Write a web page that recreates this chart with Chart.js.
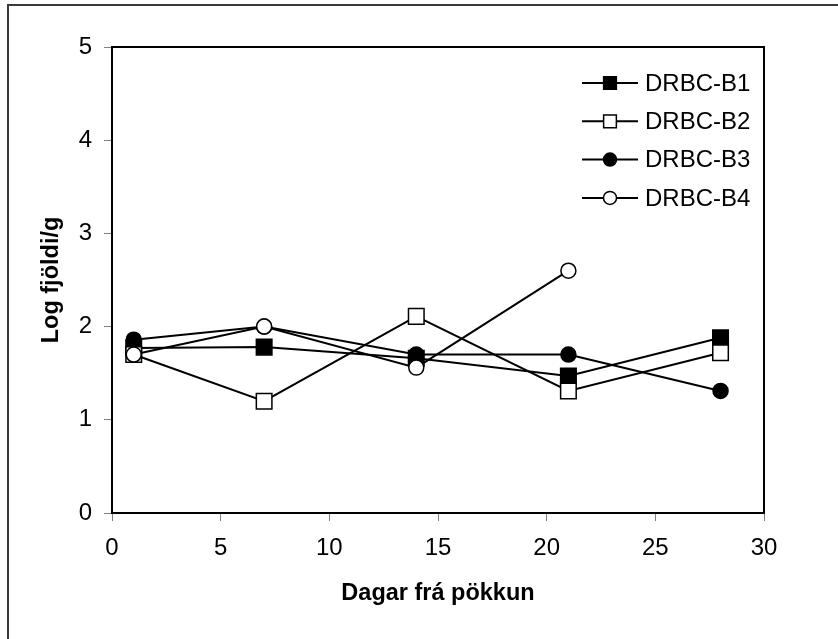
<!DOCTYPE html>
<html>
<head>
<meta charset="utf-8">
<script src="https://cdn.jsdelivr.net/npm/chart.js@4.4.1/dist/chart.umd.min.js"></script>
<style>
  html, body { margin: 0; padding: 0; background: #fff; }
  #wrap { width: 838px; height: 639px; }
</style>
</head>
<body>
<div id="wrap"><canvas id="chart" width="838" height="639"></canvas></div>
<script>
// days after packing
var days = [1, 7, 14, 21, 28];
var seriesNames = ['DRBC-B1', 'DRBC-B2', 'DRBC-B3', 'DRBC-B4'];
var valuesB1 = [1.77, 1.78, 1.66, 1.47, 1.88];
var valuesB2 = [1.70, 1.20, 2.11, 1.31, 1.72];
var valuesB3 = [1.86, 2.00, 1.70, 1.70, 1.31];
var valuesB4 = [1.70, 2.00, 1.56, 2.60, null];
var xTicks = [0, 5, 10, 15, 20, 25, 30];
var yTicks = [0, 1, 2, 3, 4, 5];

var FONT = '"Liberation Sans", Arial, sans-serif';

function points(values) {
  return days.map(function(d, i) { return { x: d, y: values[i] }; });
}

// later series are painted on top, like in the original
function series(name, values, style, filled, radius, order) {
  return {
    label: name,
    data: points(values),
    order: order,
    borderColor: '#000',
    borderWidth: 2,
    pointStyle: style,
    pointRadius: radius,
    pointHoverRadius: radius,
    pointBorderWidth: 1.5,
    pointBorderColor: '#000',
    pointBackgroundColor: filled ? '#000' : '#fff',
    spanGaps: false,
    tension: 0
  };
}

var datasets = [
  series(seriesNames[0], valuesB1, 'rect', true, 11, 4),
  series(seriesNames[1], valuesB2, 'rect', false, 11, 3),
  series(seriesNames[2], valuesB3, 'circle', true, 7.5, 2),
  series(seriesNames[3], valuesB4, 'circle', false, 7.5, 1)
];

var framePlugin = {
  id: 'frame',
  beforeDraw: function(chart) {
    var ctx = chart.ctx;
    ctx.save();
    ctx.fillStyle = '#fff';
    ctx.fillRect(0, 0, chart.width, chart.height);
    // outer frame (only top and left edges are inside the picture)
    ctx.strokeStyle = '#3a3a3a';
    ctx.lineWidth = 2;
    ctx.beginPath();
    ctx.moveTo(8, chart.height);
    ctx.lineTo(8, 5);
    ctx.lineTo(chart.width, 5);
    ctx.stroke();
    ctx.restore();
  },
  beforeDatasetsDraw: function(chart) {
    var a = chart.chartArea;
    var ctx = chart.ctx;
    ctx.save();
    ctx.strokeStyle = '#000';
    ctx.lineWidth = 2;
    ctx.strokeRect(a.left, a.top, a.right - a.left, a.bottom - a.top);
    ctx.restore();
  },
  afterDraw: function(chart) {
    var a = chart.chartArea;
    var ctx = chart.ctx;
    ctx.save();
    ctx.font = '24px ' + FONT;
    ctx.textBaseline = 'middle';
    ctx.textAlign = 'left';
    chart.data.datasets.forEach(function(ds, i) {
      var y = a.top + 36 + i * 38.3;
      var x0 = a.right - 182;
      ctx.strokeStyle = '#000';
      ctx.lineWidth = 2;
      ctx.beginPath();
      ctx.moveTo(x0, y);
      ctx.lineTo(x0 + 56, y);
      ctx.stroke();
      ctx.fillStyle = ds.pointBackgroundColor;
      ctx.lineWidth = 1.5;
      Chart.helpers.drawPoint(ctx, {
        pointStyle: ds.pointStyle,
        rotation: 0,
        radius: ds.pointStyle === 'rect' ? 9 : 6.5,
        borderWidth: 1.5
      }, x0 + 28, y);
      ctx.fillStyle = '#000';
      ctx.fillText(ds.label, x0 + 63, y + 1);
    });
    ctx.restore();
  }
};

var ctx = document.getElementById('chart').getContext('2d');
new Chart(ctx, {
  type: 'line',
  data: { datasets: datasets },
  plugins: [framePlugin],
  options: {
    responsive: false,
    animation: false,
    devicePixelRatio: 1,
    layout: { padding: { left: 30, right: 74, top: 47, bottom: 20 } },
    plugins: { legend: { display: false }, tooltip: { enabled: false } },
    scales: {
      x: {
        type: 'linear',
        min: 0,
        max: 30,
        afterFit: function(scale) { scale.height = 106; },
        afterBuildTicks: function(scale) {
          scale.ticks = xTicks.map(function(v) { return { value: v }; });
        },
        border: { display: false },
        grid: { drawOnChartArea: false, drawTicks: true, tickLength: 8, color: '#808080', lineWidth: 1 },
        ticks: { color: '#000', padding: 13, maxRotation: 0, font: { family: FONT, size: 24 } },
        title: {
          display: true,
          text: 'Dagar frá pökkun',
          color: '#000',
          padding: { top: 0, bottom: 11 },
          font: { family: FONT, size: 23.5, weight: 'bold' }
        }
      },
      y: {
        type: 'linear',
        min: 0,
        max: 5,
        afterFit: function(scale) { scale.width = 82; },
        afterBuildTicks: function(scale) {
          scale.ticks = yTicks.map(function(v) { return { value: v }; });
        },
        border: { display: false },
        grid: { drawOnChartArea: false, drawTicks: true, tickLength: 8, color: '#808080', lineWidth: 1 },
        ticks: { color: '#000', padding: 12, font: { family: FONT, size: 24 } },
        title: {
          display: true,
          text: 'Log fjöldi/g',
          color: '#000',
          padding: { top: 7, bottom: 0 },
          font: { family: FONT, size: 23.5, weight: 'bold' }
        }
      }
    }
  }
});
</script>
</body>
</html>
